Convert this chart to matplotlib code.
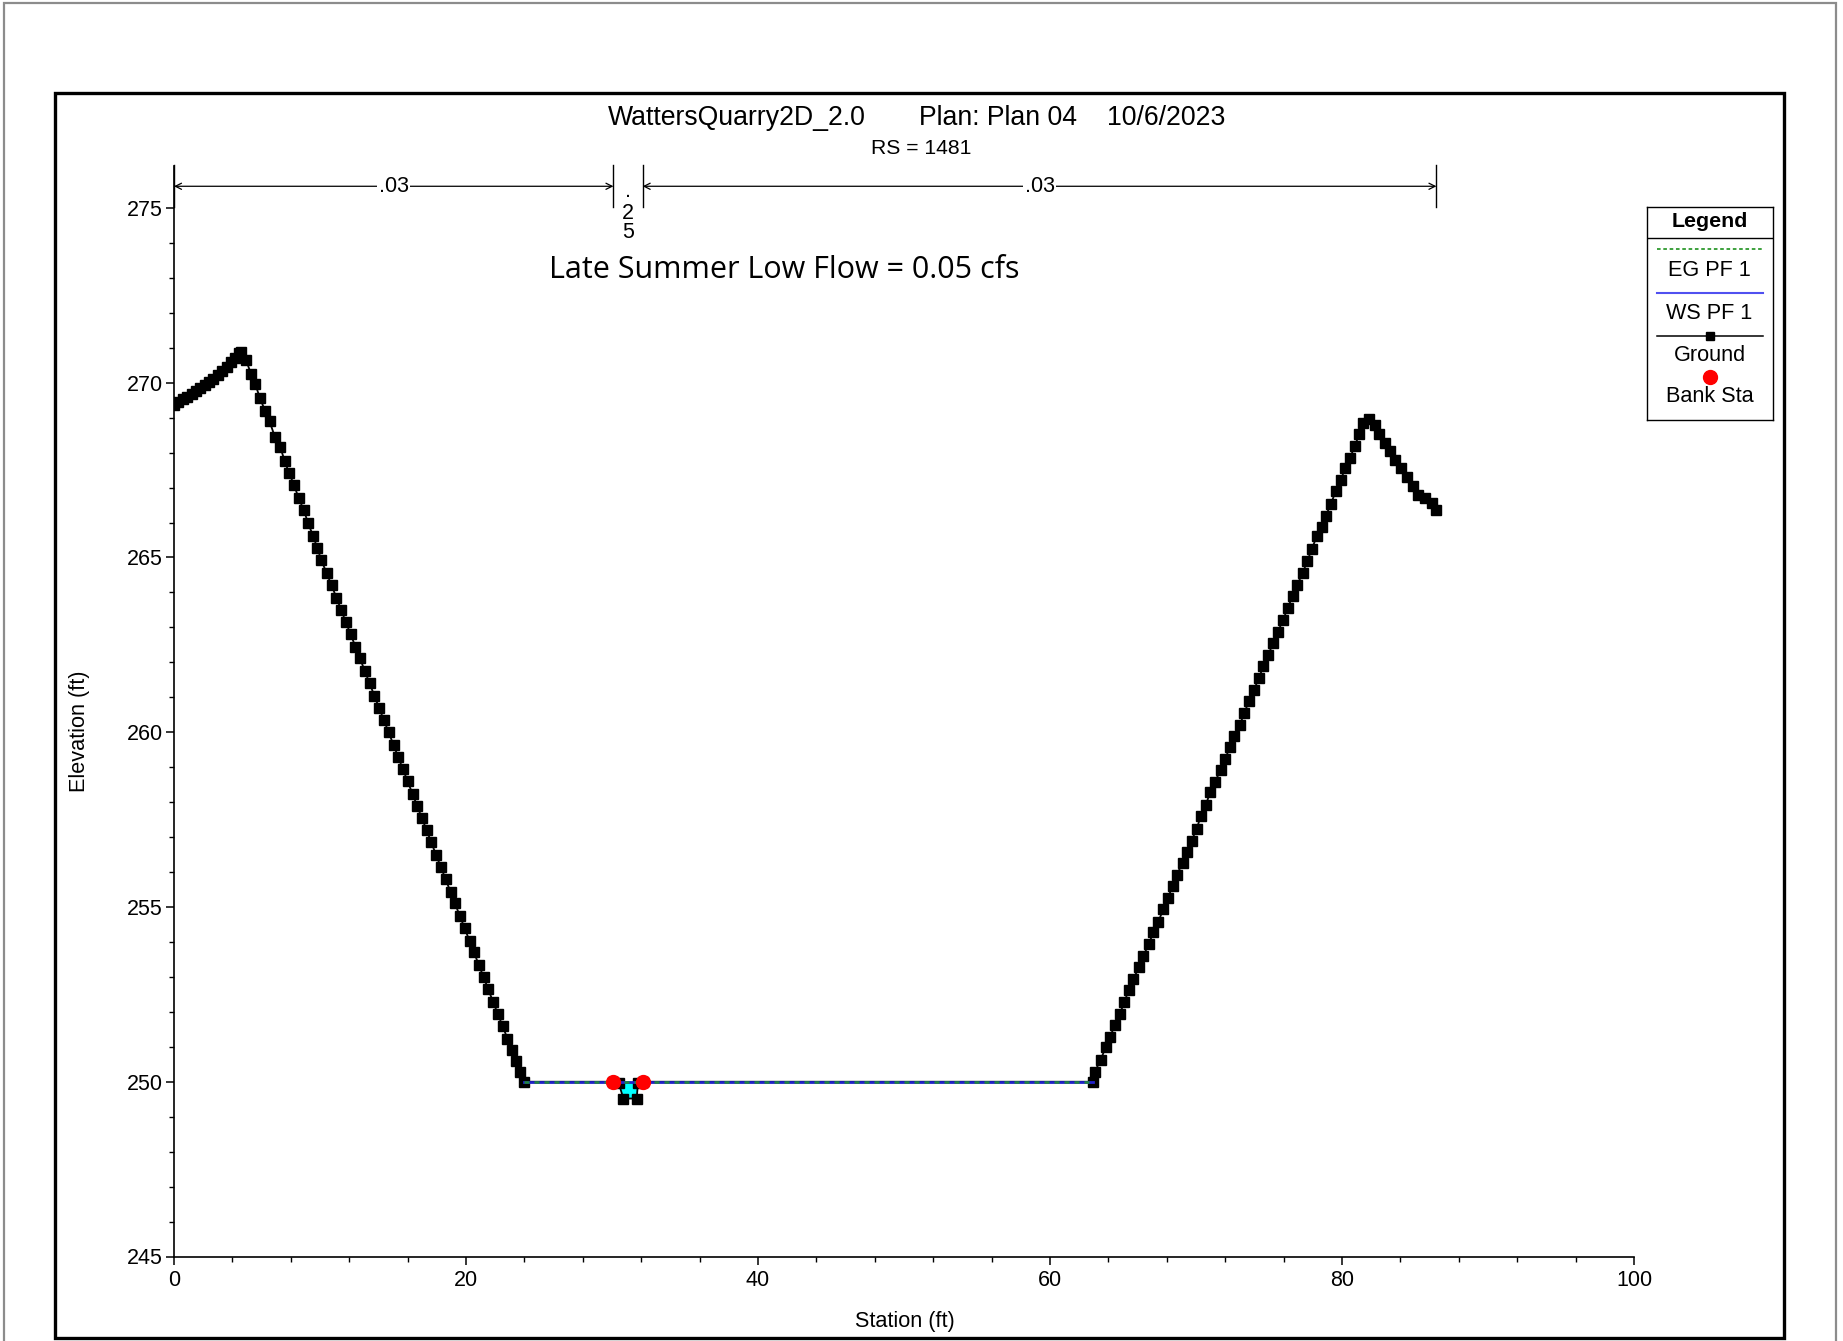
import matplotlib
matplotlib.use('Agg')
import matplotlib.pyplot as plt
import numpy as np
from matplotlib.patches import Rectangle
from matplotlib.ticker import MultipleLocator, FixedLocator

plt.rcParams['font.family'] = ['Liberation Sans', 'DejaVu Sans']

# ---------------- data ----------------
ground_sta = [
    0.00, 0.30, 0.60, 0.90, 1.20, 1.50, 1.80, 2.10, 2.40, 2.70, 3.00, 3.30, 3.60, 3.90, 4.20, 4.45, 4.57,
    4.93, 5.27, 5.57, 5.89, 6.23, 6.55, 6.90, 7.26, 7.58, 7.88, 8.22, 8.54, 8.90, 9.18, 9.54, 9.80,
    10.10, 10.45, 10.80, 11.12, 11.45, 11.76, 12.10, 12.43, 12.73, 13.08, 13.40, 13.72, 14.06, 14.38,
    14.70, 15.04, 15.35, 15.68, 16.00, 16.34, 16.65, 16.98, 17.30, 17.62, 17.96, 18.28, 18.60, 18.94,
    19.25, 19.58, 19.90, 20.24, 20.55, 20.88, 21.20, 21.52, 21.86, 22.18, 22.50, 22.84, 23.15, 23.45,
    23.72, 24.00,
    30.10, 30.45, 30.78, 31.69, 31.78, 32.10,
    62.92, 63.08, 63.47, 63.81, 64.11, 64.45, 64.79, 65.09, 65.41, 65.70, 66.11, 66.39, 66.78, 67.07,
    67.42, 67.76, 68.06, 68.40, 68.68, 69.09, 69.36, 69.70, 70.05, 70.32, 70.68, 70.96, 71.30, 71.69,
    71.99, 72.33, 72.62, 73.01, 73.31, 73.63, 73.97, 74.32, 74.61, 74.95, 75.29, 75.60, 75.98, 76.28,
    76.62, 76.94, 77.31, 77.62, 77.92, 78.27, 78.61, 78.90, 79.25, 79.57, 79.91, 80.21, 80.55, 80.89,
    81.19, 81.42, 81.87, 82.26, 82.56, 82.95, 83.29, 83.63, 84.02, 84.43, 84.89, 85.23, 85.68, 86.14,
    86.44,
]
ground_elev = [
    269.35, 269.44, 269.52, 269.60, 269.68, 269.76, 269.84, 269.93, 270.02, 270.12, 270.22, 270.33,
    270.45, 270.58, 270.72, 270.84, 270.87,
    270.65, 270.26, 269.95, 269.56, 269.20, 268.89, 268.46, 268.17, 267.77, 267.41, 267.08, 266.69,
    266.35, 265.98, 265.61, 265.28,
    264.92, 264.55, 264.20, 263.85, 263.50, 263.16, 262.80, 262.44, 262.12, 261.74, 261.40, 261.05,
    260.68, 260.34, 260.00, 259.63, 259.30, 258.94, 258.60, 258.23, 257.90, 257.54, 257.20, 256.85,
    256.48, 256.14, 255.80, 255.43, 255.10, 254.74, 254.40, 254.03, 253.70, 253.34, 253.00, 252.65,
    252.28, 251.94, 251.60, 251.23, 250.90, 250.58, 250.28, 250.00,
    250.00, 249.97, 249.52, 249.52, 249.97, 250.00,
    250.00, 250.29, 250.63, 250.98, 251.28, 251.63, 251.94, 252.29, 252.63, 252.94, 253.28, 253.60,
    253.95, 254.27, 254.58, 254.94, 255.25, 255.59, 255.92, 256.26, 256.57, 256.90, 257.24, 257.59,
    257.92, 258.28, 258.59, 258.91, 259.24, 259.57, 259.90, 260.22, 260.55, 260.90, 261.22, 261.55,
    261.90, 262.22, 262.55, 262.87, 263.22, 263.56, 263.89, 264.22, 264.56, 264.89, 265.23, 265.60,
    265.88, 266.20, 266.54, 266.90, 267.21, 267.55, 267.85, 268.20, 268.54, 268.85, 268.97, 268.78,
    268.54, 268.28, 268.04, 267.80, 267.57, 267.31, 267.04, 266.80, 266.71, 266.56, 266.37,
]
ws_sta = [24.00, 62.92]
ws_elev = [250.00, 250.00]
eg_sta = [24.00, 62.92]
eg_elev = [250.00, 250.00]
bank_sta = [30.10, 32.10]
bank_elev = [250.00, 250.00]
n_bounds = [0.00, 30.10, 32.10, 86.47]
n_labels = ['.03', '.025', '.03']
legend_labels = ['EG PF 1', 'WS PF 1', 'Ground', 'Bank Sta']
x_ticks = [0, 20, 40, 60, 80, 100]
y_ticks = [245, 250, 255, 260, 265, 270, 275]

# ---------------- figure ----------------
W, H = 1843, 1341
fig = plt.figure(figsize=(W / 100, H / 100), dpi=100)


def fx(px):
    return px / W


def fy(py):
    return 1 - py / H


# frames
fig.add_artist(Rectangle((fx(4), fy(1345)), (1836 - 4) / W, (1345 - 3) / H,
                         transform=fig.transFigure, fill=False, ec='#8c8c8c', lw=1.6))
fig.add_artist(Rectangle((fx(55), fy(1338)), (1784 - 55) / W, (1338 - 93) / H,
                         transform=fig.transFigure, fill=False, ec='black', lw=2.4))

ax = fig.add_axes([fx(174), fy(1256.5), (1634 - 174) / W, (1256.5 - 166) / H])
ax.set_xlim(0, 100)
ax.set_ylim(245, 276.2)
for s in ['top', 'right']:
    ax.spines[s].set_visible(False)
for s in ['left', 'bottom']:
    ax.spines[s].set_linewidth(1.2)
ax.set_xticks(x_ticks)
ax.set_yticks(y_ticks)
ax.xaxis.set_minor_locator(MultipleLocator(4))
ax.yaxis.set_minor_locator(FixedLocator(np.arange(y_ticks[0], y_ticks[-1] + 0.5, 1)))
ax.tick_params(which='major', direction='out', length=6, width=1.1, labelsize=15.5)
ax.tick_params(which='minor', direction='out', length=3.5, width=1.0)
ax.tick_params(axis='y', which='major', pad=2)
ax.tick_params(axis='x', which='major', pad=4)

gs = np.array(ground_sta)
ge = np.array(ground_elev)
wl = np.interp(gs, ws_sta, ws_elev)
inside = (gs >= ws_sta[0]) & (gs <= ws_sta[-1])
ax.fill_between(gs, ge, wl, where=inside & (ge < wl), interpolate=True,
                color='#00ffff', lw=0, zorder=2)
ax.plot(gs, ge, color='black', lw=1.3, marker='s', ms=7, mfc='black', mec='black', zorder=4)
ax.plot(ws_sta, ws_elev, color='#2020c8', lw=2.0, zorder=5)
ax.plot(eg_sta, eg_elev, color='#1f8a3a', lw=1.8, ls=(0, (2, 2)), zorder=5)
ax.plot(bank_sta, bank_elev, 'o', color='red', ms=10, zorder=6)

# Manning's n annotations
ya = 275.62
for xb in n_bounds:
    ax.plot([xb, xb], [275.02, 276.22], color='black', lw=1.0, clip_on=False, zorder=5)
for i, lab in enumerate(n_labels):
    a, b = n_bounds[i], n_bounds[i + 1]
    mid = (a + b) / 2
    if b - a > 5:
        ax.annotate('', xy=(a, ya), xytext=(mid, ya), annotation_clip=False,
                    arrowprops=dict(arrowstyle='->', lw=0.9, color='black',
                                    shrinkA=0, shrinkB=0, mutation_scale=11))
        ax.annotate('', xy=(b, ya), xytext=(mid, ya), annotation_clip=False,
                    arrowprops=dict(arrowstyle='->', lw=0.9, color='black',
                                    shrinkA=0, shrinkB=0, mutation_scale=11))
        ax.text(mid, ya, lab, ha='center', va='center', fontsize=15.5, clip_on=False,
                bbox=dict(fc='white', ec='none', pad=1.0), zorder=6)
    else:
        chars = [c for c in lab if c != '0']
        ax.text(mid, 275.30, chars[0], ha='center', va='baseline', fontsize=15.5, clip_on=False)
        ax.text(mid, 274.84, chars[1], ha='center', va='center', fontsize=15.5, clip_on=False)
        ax.text(mid, 274.30, chars[2], ha='center', va='center', fontsize=15.5, clip_on=False)

# titles
fig.text(fx(737), fy(118), 'WattersQuarry2D_2.0', ha='center', va='center', fontsize=19.2)
fig.text(fx(998), fy(118), 'Plan: Plan 04', ha='center', va='center', fontsize=19.2)
fig.text(fx(1166), fy(118), '10/6/2023', ha='center', va='center', fontsize=19.2)
fig.text(fx(921.5), fy(149), 'RS = 1481', ha='center', va='center', fontsize=15.2)
fig.text(fx(784), fy(270.5), 'Late Summer Low Flow = 0.05 cfs', ha='center', va='center',
         fontsize=22, family=['Open Sans', 'DejaVu Sans'])
fig.text(fx(905), fy(1322), 'Station (ft)', ha='center', va='center', fontsize=15.6)
fig.text(fx(79), fy(731), 'Elevation (ft)', ha='center', va='center', fontsize=15.6, rotation=90)

# legend box (pixel-unit inset axes)
lx0, lx1, ly0, ly1 = 1646.7, 1772.5, 206.9, 419.6
lax = fig.add_axes([fx(lx0), fy(ly1), (lx1 - lx0) / W, (ly1 - ly0) / H])
lax.set_xlim(lx0, lx1)
lax.set_ylim(ly1, ly0)
lax.set_xticks([])
lax.set_yticks([])
for s in lax.spines.values():
    s.set_linewidth(1.0)
cx = (lx0 + lx1) / 2
lax.text(cx, 221, 'Legend', ha='center', va='center', fontsize=15.4, fontweight='bold')
lax.plot([lx0, lx1], [237.7, 237.7], color='black', lw=1.0)
lax.plot([1656.7, 1763.3], [249.3, 249.3], color='#2e9a2e', lw=1.3, ls=(0, (2, 1.5)))
lax.text(cx, 270.5, legend_labels[0], ha='center', va='center', fontsize=15.6)
lax.plot([1656.7, 1763.3], [292.7, 292.7], color='#5050f0', lw=1.5)
lax.text(cx, 313.8, legend_labels[1], ha='center', va='center', fontsize=15.6)
lax.plot([1656.7, 1763.3], [335.7, 335.7], color='black', lw=1.1)
lax.plot([cx], [335.7], marker='s', color='black', ms=6)
lax.text(cx, 355.8, legend_labels[2], ha='center', va='center', fontsize=15.6)
lax.plot([cx], [376.7], 'o', color='red', ms=10)
lax.text(cx, 396.5, legend_labels[3], ha='center', va='center', fontsize=15.6)

fig.savefig('out.png', dpi=100)
